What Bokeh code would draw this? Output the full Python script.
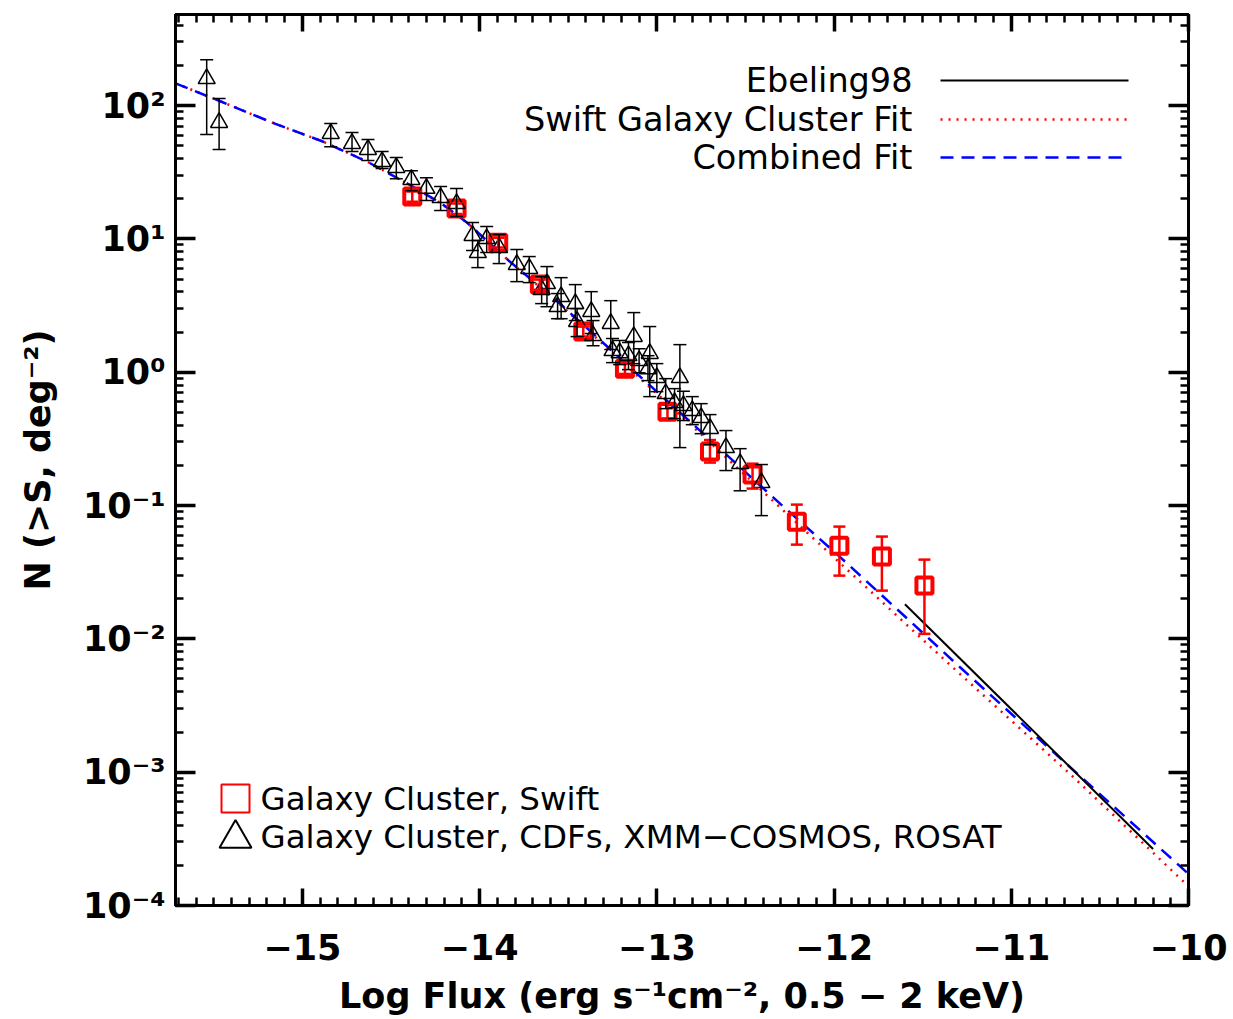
import numpy as np
from bokeh.plotting import figure
from bokeh.models import (ColumnDataSource, Whisker, TeeHead, FixedTicker, LinearAxis, LogAxis,
                          CustomJSTickFormatter, Range1d, LinearScale)
from bokeh.core.properties import value
from bokeh.embed import file_html
from bokeh.resources import INLINE

# ---------------- data ----------------
# Swift galaxy clusters (red squares)
swift_logS = [-14.38, -14.13, -13.895, -13.66, -13.415, -13.18, -12.94, -12.70, -12.46, -12.21, -11.97, -11.73, -11.49]
swift_N = [20.8, 16.9, 9.37, 4.54, 2.02, 1.06, 0.506, 0.254, 0.171, 0.0757, 0.050, 0.0414, 0.0251]
swift_lo = [19.0, 15.4, 8.6, 4.15, 1.85, 0.97, 0.45, 0.21, 0.134, 0.0509, 0.0298, 0.0230, 0.0109]
swift_hi = [22.7, 18.4, 10.2, 4.95, 2.2, 1.16, 0.57, 0.31, 0.206, 0.1016, 0.0695, 0.0585, 0.0393]

# CDFs, XMM-COSMOS, ROSAT galaxy clusters (black triangles)
lit_logS = [-15.54, -15.47, -14.84, -14.72, -14.63, -14.55, -14.47, -14.385, -14.30, -14.22,
            -14.13, -14.04, -14.01, -13.96, -13.89, -13.79, -13.72, -13.65, -13.62, -13.56,
            -13.54, -13.46, -13.45, -13.37, -13.36, -13.26, -13.25, -13.21, -13.16, -13.13,
            -13.10, -13.05, -13.04, -13.00, -12.95, -12.90, -12.87, -12.85, -12.80, -12.75,
            -12.70, -12.61, -12.53, -12.41]
lit_N = [159, 74.6, 61.7, 51.9, 46.8, 38.0, 34.3, 27.9, 23.9, 20.4,
         18.4, 10.6, 7.89, 10.05, 8.60, 6.42, 5.99, 4.17, 4.62, 3.10,
         3.69, 3.27, 2.40, 2.85, 1.88, 2.32, 1.45, 1.40, 1.33, 1.85,
         1.22, 1.06, 1.38, 0.911, 0.691, 0.592, 0.911, 0.562, 0.515, 0.456,
         0.378, 0.272, 0.206, 0.1485]
lit_lo = [60.6, 46.8, 49.2, 45.2, 38.7, 33.7, 28.3, 23.0, 19.4, 16.3,
          14.7, 8.17, 6.09, 7.89, 6.53, 4.78, 4.70, 3.27, 3.10, 2.52,
          2.52, 2.44, 1.85, 1.95, 1.58, 1.48, 1.18, 1.14, 1.046, 1.16,
          0.99, 0.865, 0.656, 0.715, 0.533, 0.449, 0.272, 0.434, 0.404, 0.346,
          0.286, 0.183, 0.129, 0.084]
lit_hi = [221, 112.8, 73.3, 62.7, 55.6, 45.2, 40.7, 32.5, 28.8, 24.7,
          23.9, 13.3, 9.71, 12.4, 10.8, 8.31, 7.37, 5.21, 6.20, 3.89,
          5.12, 4.54, 3.00, 4.02, 2.44, 3.44, 1.79, 1.73, 1.67, 2.80,
          1.50, 1.33, 2.20, 1.16, 0.895, 0.753, 1.61, 0.72, 0.656, 0.581,
          0.481, 0.365, 0.267, 0.203]

# Fitted curves
swift_fit_logS = [-15.716, -15.45, -15.152, -14.889, -14.635, -14.40, -14.212, -14.07, -13.83, -13.56,
                  -13.32, -13.08, -12.755, -12.30, -11.947, -11.533, -11.289, -10.668, -10.0]
swift_fit_N = [146.9, 105.9, 72.9, 54.0, 38.0, 25.7, 18.3, 13.2, 6.76, 3.35,
               1.70, 0.865, 0.347, 0.0955, 0.0351, 0.01084, 0.005445, 9.68e-4, 1.393e-4]
comb_fit_logS = [-15.716, -15.45, -15.152, -14.889, -14.635, -14.40, -14.212, -14.07, -13.83, -13.56,
                 -13.32, -13.08, -12.755, -12.30, -11.975, -11.646, -11.289, -10.612, -10.0]
comb_fit_N = [146.9, 105.9, 72.9, 54.0, 38.0, 25.7, 18.3, 13.2, 6.76, 3.39,
              1.74, 0.891, 0.363, 0.102, 0.0421, 0.01675, 0.00612, 9.33e-4, 1.726e-4]
ebeling_logS = [-11.60, -10.20]
ebeling_N = [0.0182, 2.65e-4]

x_major = [-15, -14, -13, -12, -11, -10]
y_major = [1e-4, 1e-3, 1e-2, 1e-1, 1.0, 10.0, 100.0]

legend_fit_labels = ["Ebeling98", "Swift Galaxy Cluster Fit", "Combined Fit"]
legend_pt_labels = ["Galaxy Cluster, Swift", "Galaxy Cluster, CDFs, XMM\u2212COSMOS, ROSAT"]

# ---------------- figure ----------------
W, H = 1233, 1019
L, R, T, B = 175, 45, 14, 114
FW, FH = W - L - R, H - T - B

p = figure(width=W, height=H, x_axis_type="linear", y_axis_type="log",
           x_range=(-15.716, -10.0), y_range=(1e-4, 482),
           output_backend="svg", toolbar_location=None,
           min_border_left=L, min_border_right=R, min_border_top=T, min_border_bottom=B)
p.background_fill_color = "white"
p.border_fill_color = "white"
p.outline_line_color = "black"
p.outline_line_width = 3
p.xgrid.visible = False
p.ygrid.visible = False

# pixel-space helper ranges for legend placement
p.extra_x_ranges = {"px": Range1d(0, FW)}
p.extra_y_ranges = {"px": Range1d(start=FH, end=0)}
p.extra_x_scales = {"px": LinearScale()}
p.extra_y_scales = {"px": LinearScale()}

x_minor = list(np.round(np.arange(-15.7, -10.0 + 1e-9, 0.1), 2))
y_minor = [k * 10.0 ** e for e in range(-4, 3) for k in range(2, 10) if k * 10.0 ** e < 482]
xticker = FixedTicker(ticks=x_major, minor_ticks=x_minor)
yticker = FixedTicker(ticks=y_major, minor_ticks=y_minor)

xfmt = CustomJSTickFormatter(code="return (tick < 0 ? '\u2212' : '') + Math.abs(tick).toFixed(0);")
yfmt = CustomJSTickFormatter(code="""
const sup = {'-':'\u207b','0':'\u2070','1':'\u00b9','2':'\u00b2','3':'\u00b3','4':'\u2074',
             '5':'\u2075','6':'\u2076','7':'\u2077','8':'\u2078','9':'\u2079'};
const e = Math.round(Math.log10(tick));
return '10' + String(e).split('').map(c => sup[c]).join('');
""")
blank = CustomJSTickFormatter(code="return '';")

FONT = "DejaVu Sans"

def style_axis(ax, major_in):
    ax.axis_line_width = 3
    ax.axis_line_color = "black"
    ax.major_tick_in = major_in
    ax.major_tick_out = 0
    ax.minor_tick_in = 8
    ax.minor_tick_out = 0
    ax.major_tick_line_width = 3.5
    ax.minor_tick_line_width = 2.5
    ax.major_tick_line_color = "black"
    ax.minor_tick_line_color = "black"
    ax.major_label_text_font = FONT
    ax.major_label_text_font_style = "bold"
    ax.major_label_text_font_size = "35px"
    ax.major_label_text_color = "black"
    ax.axis_label_text_font = FONT
    ax.axis_label_text_font_style = "bold"
    ax.axis_label_text_font_size = "35px"
    ax.axis_label_text_color = "black"

xa = p.xaxis[0]
xa.ticker = xticker
xa.formatter = xfmt
style_axis(xa, 17)
xa.major_label_standoff = 28
xa.axis_label = "Log Flux (erg s\u207b\u00b9cm\u207b\u00b2, 0.5 \u2212 2 keV)"
xa.axis_label_standoff = 13

ya = p.yaxis[0]
ya.ticker = yticker
ya.formatter = yfmt
style_axis(ya, 20)
ya.major_label_standoff = 10
ya.axis_label = "N (>S, deg\u207b\u00b2)"
ya.axis_label_standoff = 22

top = LinearAxis(ticker=xticker, formatter=blank)
style_axis(top, 17)
top.major_label_text_font_size = "0px"
top.major_label_standoff = 0
p.add_layout(top, "above")

right = LogAxis(ticker=yticker, formatter=blank)
style_axis(right, 20)
right.major_label_text_font_size = "0px"
right.major_label_standoff = 0
p.add_layout(right, "right")

# ---------------- fit lines ----------------
p.line(swift_fit_logS, swift_fit_N, line_color="red", line_width=2.5, line_dash="2 6")
p.line(comb_fit_logS, comb_fit_N, line_color="blue", line_width=2.5, line_dash="13 8")
p.line(ebeling_logS, ebeling_N, line_color="black", line_width=2)

# ---------------- data points ----------------
ssrc = ColumnDataSource(dict(x=swift_logS, y=swift_N, lo=swift_lo, hi=swift_hi))
lsrc = ColumnDataSource(dict(x=lit_logS, y=lit_N, lo=lit_lo, hi=lit_hi))

p.add_layout(Whisker(source=ssrc, base="x", lower="lo", upper="hi", dimension="height",
                     line_color="red", line_width=2.5, level="glyph",
                     upper_head=TeeHead(size=12, line_color="red", line_width=2.5),
                     lower_head=TeeHead(size=12, line_color="red", line_width=2.5)))
p.scatter("x", "y", source=ssrc, marker="square", size=16, fill_color=None,
          line_color="red", line_width=4)

p.add_layout(Whisker(source=lsrc, base="x", lower="lo", upper="hi", dimension="height",
                     line_color="black", line_width=1.5, level="glyph",
                     upper_head=TeeHead(size=13, line_color="black", line_width=1.5),
                     lower_head=TeeHead(size=13, line_color="black", line_width=1.5)))
p.scatter("x", "y", source=lsrc, marker="triangle", size=17, fill_color=None,
          line_color="black", line_width=1.5)

# ---------------- legends (pixel space inside the frame) ----------------
leg_y = [66, 105, 143]
p.text(x=[737, 737, 737], y=leg_y, text=legend_fit_labels, x_range_name="px", y_range_name="px",
       text_align="right", text_baseline="middle", text_font=value(FONT), text_font_size="33.5px",
       text_color="black")
p.segment(x0=[765], y0=[leg_y[0]], x1=[953], y1=[leg_y[0]], x_range_name="px", y_range_name="px",
          line_color="black", line_width=2)
p.segment(x0=[765], y0=[leg_y[1]], x1=[953], y1=[leg_y[1]], x_range_name="px", y_range_name="px",
          line_color="red", line_width=2.5, line_dash="2 6")
p.segment(x0=[765], y0=[leg_y[2]], x1=[953], y1=[leg_y[2]], x_range_name="px", y_range_name="px",
          line_color="blue", line_width=2.5, line_dash="13 8")

pt_y = [784, 822]
p.scatter(x=[60], y=[pt_y[0]], marker="square", size=28, fill_color=None, line_color="red",
          line_width=2, x_range_name="px", y_range_name="px")
p.scatter(x=[60], y=[pt_y[1] + 2], marker="triangle", size=32, fill_color=None, line_color="black",
          line_width=2, x_range_name="px", y_range_name="px")
p.text(x=[85, 85], y=pt_y, text=legend_pt_labels, x_range_name="px", y_range_name="px",
       text_align="left", text_baseline="middle", text_font=value(FONT), text_font_size="32.5px",
       text_color="black")

open("out.html", "w").write(file_html(p, INLINE))
